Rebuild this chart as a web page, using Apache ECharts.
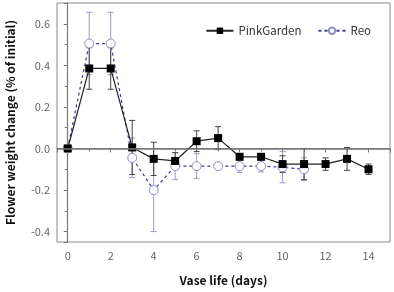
<!DOCTYPE html>
<html>
<head>
<meta charset="utf-8">
<script src="https://cdn.jsdelivr.net/npm/echarts@6/dist/echarts.min.js"></script>
<style>
  html, body { margin: 0; padding: 0; background: #fff; }
  #chart { width: 394px; height: 292px; }
</style>
</head>
<body>
<div id="chart"></div>
<script>
// vase life (days)
const daysPink = [0, 1, 2, 3, 4, 5, 6, 7, 8, 9, 10, 11, 12, 13, 14]
const pinkGarden = [0, 0.385, 0.385, 0.005, -0.05, -0.06, 0.035, 0.05, -0.04, -0.04, -0.075, -0.075, -0.075, -0.05, -0.1]
const pinkErr = [0, 0.1, 0.1, 0.13, 0.08, 0.04, 0.05, 0.055, 0.015, 0.015, 0.04, 0.075, 0.03, 0.055, 0.025]

const daysReo = [0, 1, 2, 3, 4, 5, 6, 7, 8, 9, 10, 11]
const reo = [0, 0.505, 0.505, -0.045, -0.2, -0.085, -0.085, -0.085, -0.085, -0.085, -0.09, -0.1]
const reoErr = [0, 0.15, 0.15, 0.095, 0.2, 0.065, 0.06, 0.012, 0.03, 0.028, 0.075, 0.055]

const FONT = '"Noto Sans CJK KR", "Noto Sans", sans-serif'

const chart = echarts.init(document.getElementById('chart'))

function errData(days, vals, errs) {
  return days.map((d, i) => [d, vals[i] - errs[i], vals[i] + errs[i]])
}

function errSeries(name, data, color) {
  return {
    type: 'custom',
    name: name,
    data: data,
    encode: { x: 0, y: [1, 2] },
    silent: true,
    z: 1,
    renderItem(params, api) {
      const x = api.value(0)
      const top = api.coord([x, api.value(2)])
      const bot = api.coord([x, api.value(1)])
      const w = 3
      const style = { stroke: color, lineWidth: 1 }
      return {
        type: 'group',
        children: [
          { type: 'line', shape: { x1: top[0], y1: top[1], x2: bot[0], y2: bot[1] }, style },
          { type: 'line', shape: { x1: top[0] - w, y1: top[1], x2: top[0] + w, y2: top[1] }, style },
          { type: 'line', shape: { x1: bot[0] - w, y1: bot[1], x2: bot[0] + w, y2: bot[1] }, style }
        ]
      }
    }
  }
}

chart.setOption({
  animation: false,
  textStyle: { fontFamily: FONT },
  grid: {
    left: 57,
    right: 4,
    top: 3,
    bottom: 50,
    outerBoundsMode: 'none',
    show: true,
    borderColor: '#8a8a8a',
    borderWidth: 1
  },
  legend: {
    data: ['PinkGarden', 'Reo'],
    right: 18,
    top: 20,
    itemWidth: 27,
    itemHeight: 8,
    itemGap: 16,
    textStyle: { fontSize: 11.5, color: '#333', fontFamily: FONT }
  },
  xAxis: {
    type: 'value',
    min: -0.5,
    max: 15,
    splitNumber: 8,
    name: 'Vase life (days)',
    nameLocation: 'middle',
    nameGap: 32,
    nameTextStyle: { fontSize: 12, fontWeight: 'bold', color: '#111' },
    axisLine: { show: true, lineStyle: { color: '#777', width: 1.2 } },
    axisTick: { show: true, length: 4, lineStyle: { color: '#777' } },
    minorTick: { show: true, splitNumber: 2, length: 3, lineStyle: { color: '#777' } },
    axisLabel: { fontSize: 11, color: '#666', margin: 8, showMinLabel: false, showMaxLabel: false },
    splitLine: { show: false }
  },
  yAxis: {
    type: 'value',
    min: -0.45,
    max: 0.7,
    splitNumber: 5,
    name: 'Flower weight change (% of initial)',
    nameLocation: 'middle',
    nameGap: 41,
    nameTextStyle: { fontSize: 12, fontWeight: 'bold', color: '#111' },
    axisLine: { show: true, lineStyle: { color: '#777', width: 1.2 } },
    axisTick: { show: true, length: 4, lineStyle: { color: '#777' } },
    minorTick: { show: true, splitNumber: 2, length: 3, lineStyle: { color: '#777' } },
    axisLabel: {
      fontSize: 11,
      color: '#666',
      margin: 7,
      showMinLabel: false,
      showMaxLabel: false,
      formatter: v => v.toFixed(1)
    },
    splitLine: { show: false }
  },
  series: [
    {
      name: 'PinkGarden',
      type: 'line',
      data: daysPink.map((d, i) => [d, pinkGarden[i]]),
      symbol: 'rect',
      symbolSize: 8,
      lineStyle: { color: '#222', width: 1.2 },
      itemStyle: { color: '#000' },
      z: 3,
      markLine: {
        silent: true,
        symbol: 'none',
        label: { show: false },
        lineStyle: { color: '#777', width: 1.5, type: 'solid' },
        data: [{ yAxis: 0 }]
      }
    },
    {
      name: 'Reo',
      type: 'line',
      data: daysReo.map((d, i) => [d, reo[i]]),
      symbol: 'circle',
      symbolSize: 9,
      lineStyle: { color: '#3a3aa0', width: 1.2, type: [3, 3] },
      itemStyle: { color: '#fff', borderColor: '#8e8ec8', borderWidth: 1 },
      z: 2
    },
    errSeries('Reo', errData(daysReo, reo, reoErr), '#9a9acc'),
    errSeries('PinkGarden', errData(daysPink, pinkGarden, pinkErr), '#444')
  ]
})
</script>
</body>
</html>
